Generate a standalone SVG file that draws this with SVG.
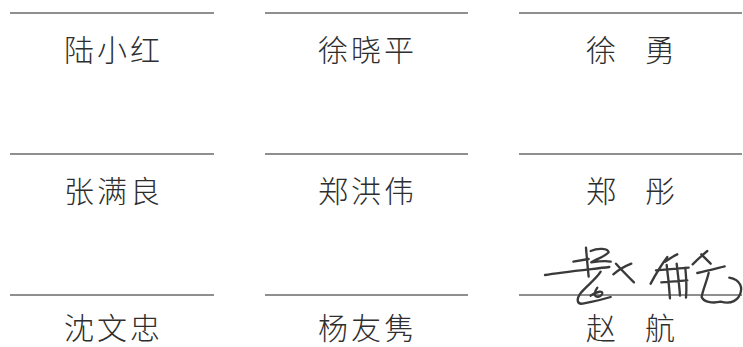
<svg xmlns="http://www.w3.org/2000/svg" width="743" height="347" viewBox="0 0 743 347">
<style>
.ln{stroke:#6a6a6a;stroke-width:1.6;fill:none}
.nm{font-family:"Noto Sans CJK SC","Noto Sans CJK TC",sans-serif;font-size:30px;font-weight:300;fill:#2e2e2e;letter-spacing:3px}
.sig{stroke:#3a3a3a;stroke-width:7;fill:none;stroke-linecap:round;stroke-linejoin:round}
</style>
<rect width="743" height="347" fill="#fff"/>
<g id="lines">
<line class="ln" x1="10" y1="13" x2="214" y2="13"/>
<line class="ln" x1="265" y1="13" x2="468" y2="13"/>
<line class="ln" x1="519" y1="13" x2="742" y2="13"/>
<line class="ln" x1="10" y1="154" x2="214" y2="154"/>
<line class="ln" x1="265" y1="154" x2="468" y2="154"/>
<line class="ln" x1="519" y1="154" x2="742" y2="154"/>
<line class="ln" x1="10" y1="295" x2="214" y2="295"/>
<line class="ln" x1="265" y1="295" x2="468" y2="295"/>
<line class="ln" x1="519" y1="295" x2="742" y2="295"/>
</g>
<g id="n1"><text class="nm" x="64" y="61">陆小红</text></g>
<g id="n2"><text class="nm" x="318" y="61">徐晓平</text></g>
<g id="n3"><text class="nm" x="586 645" y="61">徐勇</text></g>
<g id="n4"><text class="nm" x="64" y="202">张满良</text></g>
<g id="n5"><text class="nm" x="318" y="202">郑洪伟</text></g>
<g id="n6"><text class="nm" x="586 645" y="202">郑彤</text></g>
<g id="n7"><text class="nm" x="64" y="339">沈文忠</text></g>
<g id="n8"><text class="nm" x="318" y="339">杨友隽</text></g>
<g id="n9"><text class="nm" x="586 645" y="339">赵航</text></g>
<g id="signature" transform="translate(520,235) scale(0.3333)">
<path class="sig" d="M75,120 C120,112 200,104 268,96"/>
<path class="sig" d="M198,38 C200,65 203,95 206,125"/>
<path class="sig" d="M160,80 L206,72"/>
<path class="sig" d="M212,48 C235,38 264,40 266,52 C256,64 226,74 214,82 C236,79 258,77 272,80"/>
<path class="sig" d="M242,110 C226,135 200,152 184,172 C168,192 170,208 188,206 C218,200 246,194 272,186 M212,182 C230,168 252,166 246,178 C236,192 212,186 232,158"/>
<path class="sig" d="M280,118 C296,104 314,94 334,86 M288,86 C304,104 322,122 342,142"/>
<path class="sig" d="M392,146 C408,116 424,90 442,66 M436,80 C450,70 462,62 472,58"/>
<path class="sig" d="M408,106 L506,98 M440,90 C445,128 448,160 450,190 M470,86 C474,120 478,150 480,182 M424,142 L502,136 M496,98 C499,130 501,156 498,188"/>
<path class="sig" d="M518,88 C534,72 550,58 562,48 M544,58 C556,70 566,80 572,86 M532,114 C560,108 590,100 614,94 M566,114 C560,140 548,166 545,186 C550,200 576,206 602,200 M628,128 C662,134 672,160 656,186 C646,200 626,206 602,200"/>
</g>
</svg>
